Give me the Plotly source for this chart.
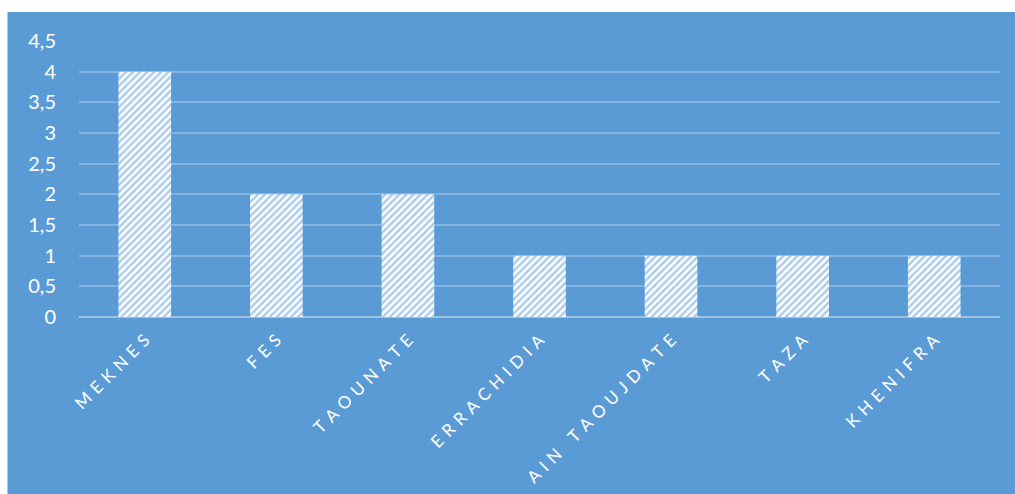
import plotly.graph_objects as go

# Category names and counts per city
villes = ["MEKNES", "FES", "TAOUNATE", "ERRACHIDIA", "AIN TAOUJDATE", "TAZA", "KHENIFRA"]
effectifs = [4, 2, 2, 1, 1, 1, 1]

# Y-axis ticks with comma decimal separators
y_ticks = [0, 0.5, 1, 1.5, 2, 2.5, 3, 3.5, 4, 4.5]
y_labels = ["0", "0,5", "1", "1,5", "2", "2,5", "3", "3,5", "4", "4,5"]

BLUE = "#5B9BD5"
W, H = 1015, 494
ML, MR, MT, MB = 79, 15, 41, 177
PW, PH = W - ML - MR, H - MT - MB


def spaced(name):
    # wide letter spacing for the category labels
    return "\u2004".join(ch if ch != " " else "\u2004" for ch in name)


fig = go.Figure(
    go.Bar(
        x=villes,
        y=effectifs,
        marker=dict(
            color="white",
            line=dict(width=0),
            pattern=dict(shape="/", fgcolor=BLUE, bgcolor="white", size=5, solidity=0.5),
        ),
        hoverinfo="x+y",
    )
)

fig.update_layout(
    width=W,
    height=H,
    margin=dict(l=ML, r=MR, t=MT, b=MB, autoexpand=False),
    paper_bgcolor=BLUE,
    plot_bgcolor=BLUE,
    bargap=0.6,
    showlegend=False,
    font=dict(family="Lato, Carlito, sans-serif", color="white"),
    xaxis=dict(
        tickmode="array",
        tickvals=villes,
        ticktext=[spaced(v) for v in villes],
        tickangle=-45,
        tickfont=dict(size=17, color="white"),
        showgrid=False,
        showline=False,
        ticks="",
        automargin=False,
        ticklabelstandoff=9,
    ),
    yaxis=dict(
        range=[0, 4.5],
        tickmode="array",
        tickvals=y_ticks,
        ticktext=y_labels,
        tickfont=dict(size=20, color="white"),
        showgrid=True,
        gridcolor="rgba(255,255,255,0.25)",
        gridwidth=1.5,
        zeroline=True,
        zerolinecolor="rgba(255,255,255,0.4)",
        zerolinewidth=1.5,
        ticks="",
        automargin=False,
        ticklabelstandoff=22,
    ),
    shapes=[
        # white page margin along the top edge
        dict(type="rect", xref="paper", yref="paper",
             x0=-ML / PW - 0.01, x1=1 + MR / PW + 0.01,
             y0=(H - 12 - MB) / PH, y1=(H - MB) / PH + 0.01,
             fillcolor="white", line=dict(width=0), layer="below"),
        # white page margin along the left edge
        dict(type="rect", xref="paper", yref="paper",
             x0=-ML / PW - 0.01, x1=(7 - ML) / PW,
             y0=-MB / PH - 0.01, y1=(H - MB) / PH + 0.01,
             fillcolor="white", line=dict(width=0), layer="below"),
        # thin light border on the left edge of the chart frame
        dict(type="line", xref="paper", yref="paper",
             x0=(7.5 - ML) / PW, x1=(7.5 - ML) / PW,
             y0=-MB / PH - 0.01, y1=(H - 12 - MB) / PH,
             line=dict(color="#A9C8EA", width=1), layer="below"),
    ],
)

fig.write_html("out.html")
